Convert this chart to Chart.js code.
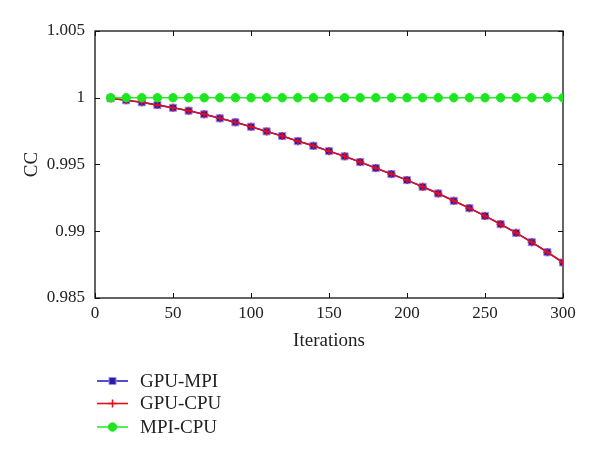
<!DOCTYPE html>
<html>
<head>
<meta charset="utf-8">
<title>CC vs iterations</title>
<script src="https://cdn.jsdelivr.net/npm/chart.js@4.4.0/dist/chart.umd.min.js"></script>
<style>
    html, body { margin: 0; padding: 0; background: #fff; }
    #wrap { width: 600px; height: 459px; }
</style>
</head>
<body>
<div id="wrap"><canvas id="ccChart" width="600" height="459"></canvas></div>
<script>
// Data
const iterations = [10, 20, 30, 40, 50, 60, 70, 80, 90, 100,
    110, 120, 130, 140, 150, 160, 170, 180, 190, 200,
    210, 220, 230, 240, 250, 260, 270, 280, 290, 300];

const gpuMpi = [0.99996, 0.99981, 0.99966, 0.99945, 0.99925, 0.99903, 0.99876, 0.99846, 0.99816, 0.99783,
    0.99748, 0.99713, 0.99675, 0.99640, 0.99600, 0.99561, 0.99518, 0.99473, 0.99428, 0.99383,
    0.99333, 0.99283, 0.99228, 0.99173, 0.99115, 0.99053, 0.98988, 0.98918, 0.98843, 0.98766];

const gpuCpu = [0.99996, 0.99981, 0.99966, 0.99945, 0.99925, 0.99903, 0.99876, 0.99846, 0.99816, 0.99783,
    0.99748, 0.99713, 0.99675, 0.99640, 0.99600, 0.99561, 0.99518, 0.99473, 0.99428, 0.99383,
    0.99333, 0.99283, 0.99228, 0.99173, 0.99115, 0.99053, 0.98988, 0.98918, 0.98843, 0.98766];

const mpiCpu = [1, 1, 1, 1, 1, 1, 1, 1, 1, 1,
    1, 1, 1, 1, 1, 1, 1, 1, 1, 1,
    1, 1, 1, 1, 1, 1, 1, 1, 1, 1];

const xTicks = [0, 50, 100, 150, 200, 250, 300];
const yTicks = [0.985, 0.99, 0.995, 1, 1.005];

const FONT = "'Liberation Serif', 'DejaVu Serif', serif";

const toPoints = (vals) => vals.map((v, i) => ({ x: iterations[i], y: v }));

// Box around the plot with inward tick marks on every side
const frameTicks = {
    id: 'frameTicks',
    beforeDatasetsDraw(chart) {
        const { ctx, chartArea: a, scales } = chart;
        const len = 5;
        ctx.save();
        ctx.strokeStyle = '#111';
        ctx.lineWidth = 1.3;
        ctx.strokeRect(a.left, a.top, a.right - a.left, a.bottom - a.top);
        ctx.beginPath();
        xTicks.forEach(t => {
            const px = Math.round(scales.x.getPixelForValue(t)) + 0.5;
            ctx.moveTo(px, a.bottom); ctx.lineTo(px, a.bottom - len);
            ctx.moveTo(px, a.top); ctx.lineTo(px, a.top + len);
        });
        yTicks.forEach(t => {
            const py = Math.round(scales.y.getPixelForValue(t)) + 0.5;
            ctx.moveTo(a.left, py); ctx.lineTo(a.left + len, py);
            ctx.moveTo(a.right, py); ctx.lineTo(a.right - len, py);
        });
        ctx.lineWidth = 1;
        ctx.stroke();
        ctx.restore();
    }
};

// Stacked legend under the x axis title
const stackedLegend = {
    id: 'stackedLegend',
    afterDraw(chart) {
        const { ctx, chartArea: a } = chart;
        const x0 = a.left + 2, x1 = a.left + 33;
        const rows = [a.bottom + 83, a.bottom + 105.5, a.bottom + 129];
        ctx.save();
        chart.data.datasets.forEach((ds, i) => {
            const y = rows[i];
            ctx.strokeStyle = ds.borderColor;
            ctx.lineWidth = 1.6;
            ctx.beginPath();
            ctx.moveTo(x0, y); ctx.lineTo(x1, y);
            ctx.stroke();
            ctx.fillStyle = ds.pointBackgroundColor;
            ctx.strokeStyle = ds.pointBorderColor;
            ctx.lineWidth = ds.pointBorderWidth;
            Chart.helpers.drawPoint(ctx, {
                pointStyle: ds.pointStyle,
                radius: ds.pointRadius,
                rotation: 0,
                borderWidth: ds.pointBorderWidth
            }, (x0 + x1) / 2, y);
            ctx.fillStyle = '#222';
            ctx.font = '19px ' + FONT;
            ctx.textBaseline = 'middle';
            ctx.textAlign = 'left';
            ctx.fillText(ds.label, a.left + 45, y + 1);
        });
        ctx.restore();
    }
};

const ctx = document.getElementById('ccChart').getContext('2d');
new Chart(ctx, {
    type: 'line',
    data: {
        datasets: [{
            label: 'GPU-MPI',
            data: toPoints(gpuMpi),
            order: 2,
            borderColor: '#2222c8',
            borderWidth: 1.5,
            pointStyle: 'rect',
            pointRadius: 5,
            pointBackgroundColor: '#2a1aa8',
            pointBorderColor: '#a08cf4',
            pointBorderWidth: 1
        }, {
            label: 'GPU-CPU',
            data: toPoints(gpuCpu),
            order: 1,
            borderColor: '#dd1020',
            borderWidth: 1.6,
            pointStyle: 'cross',
            pointRadius: 4,
            pointBackgroundColor: '#dd1020',
            pointBorderColor: '#dd1020',
            pointBorderWidth: 1.5
        }, {
            label: 'MPI-CPU',
            data: toPoints(mpiCpu),
            order: 0,
            borderColor: '#2ee82e',
            borderWidth: 1.4,
            pointStyle: 'circle',
            pointRadius: 4.2,
            pointBackgroundColor: '#1ee61e',
            pointBorderColor: '#1ee61e',
            pointBorderWidth: 1
        }]
    },
    options: {
        responsive: false,
        animation: false,
        tension: 0,
        layout: { padding: { left: 0, right: 37, top: 31, bottom: 0 } },
        plugins: {
            legend: { display: false },
            tooltip: { enabled: false }
        },
        scales: {
            x: {
                type: 'linear',
                min: 0,
                max: 300,
                afterFit: (s) => { s.height = 161; },
                afterBuildTicks: (s) => { s.ticks = xTicks.map(v => ({ value: v })); },
                grid: { display: false, drawTicks: false, tickLength: 0 },
                border: { display: false },
                ticks: {
                    padding: 5,
                    color: '#222',
                    font: { family: FONT, size: 17 }
                },
                title: {
                    display: true,
                    text: 'Iterations',
                    color: '#222',
                    font: { family: FONT, size: 19 },
                    padding: { top: 0, bottom: 107 }
                }
            },
            y: {
                min: 0.985,
                max: 1.005,
                afterFit: (s) => { s.width = 95; },
                afterBuildTicks: (s) => { s.ticks = yTicks.map(v => ({ value: v })); },
                grid: { display: false, drawTicks: false, tickLength: 0 },
                border: { display: false },
                ticks: {
                    padding: 10,
                    color: '#222',
                    font: { family: FONT, size: 17 },
                    callback: (v) => String(+Number(v).toFixed(3))
                },
                title: {
                    display: true,
                    text: 'CC',
                    color: '#222',
                    font: { family: FONT, size: 19 },
                    padding: { top: 21, bottom: 0 }
                }
            }
        }
    },
    plugins: [frameTicks, stackedLegend]
});
</script>
</body>
</html>
